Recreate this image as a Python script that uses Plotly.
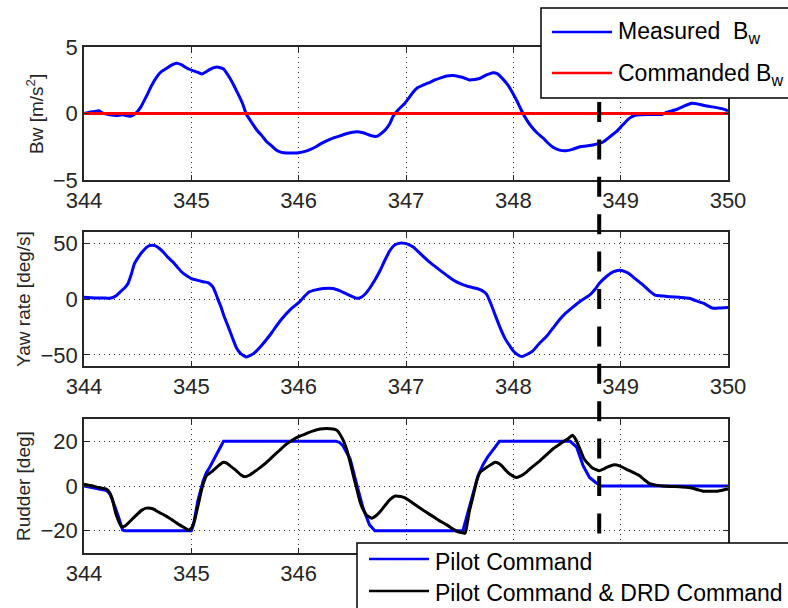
import plotly.graph_objects as go

# ---------------- data ----------------
# Lateral acceleration Bw [m/s^2]
bw_t = [344.00, 344.05, 344.10, 344.14, 344.17, 344.24, 344.30, 344.36, 344.43, 344.48,
        344.53, 344.58, 344.63, 344.68, 344.72, 344.77, 344.82, 344.86, 344.91, 344.96,
        345.02, 345.06, 345.10, 345.13, 345.17, 345.21, 345.24, 345.30, 345.36, 345.40,
        345.44, 345.48, 345.51, 345.56, 345.61, 345.66, 345.70, 345.75, 345.79, 345.84,
        345.89, 345.95, 346.00, 346.06, 346.11, 346.16, 346.20, 346.26, 346.32, 346.38,
        346.45, 346.54, 346.60, 346.65, 346.71, 346.74, 346.77, 346.81, 346.85, 346.88,
        346.93, 346.99, 347.03, 347.07, 347.11, 347.16, 347.21, 347.27, 347.33, 347.38,
        347.44, 347.49, 347.55, 347.59, 347.64, 347.69, 347.75, 347.81, 347.85, 347.89,
        347.95, 347.99, 348.03, 348.06, 348.09, 348.13, 348.17, 348.22, 348.28, 348.32,
        348.37, 348.43, 348.49, 348.55, 348.62, 348.68, 348.74, 348.80, 348.84, 348.90,
        348.96, 349.02, 349.08, 349.13, 349.18, 349.28, 349.39, 349.43, 349.52, 349.59,
        349.66, 349.73, 349.80, 349.88, 349.95, 350.00]
bw_meas = [0.00, 0.10, 0.15, 0.20, 0.05, -0.10, -0.15, -0.10, -0.20, 0.00,
           0.50, 1.27, 2.10, 2.77, 3.15, 3.40, 3.65, 3.77, 3.65, 3.40,
           3.20, 3.10, 2.97, 3.10, 3.30, 3.45, 3.50, 3.35, 2.65, 2.05,
           1.40, 0.70, 0.00, -0.65, -1.24, -1.70, -2.10, -2.45, -2.74, -2.92,
           -2.97, -2.97, -2.95, -2.85, -2.70, -2.50, -2.30, -2.05, -1.85, -1.70,
           -1.50, -1.37, -1.45, -1.60, -1.72, -1.68, -1.50, -1.20, -0.75, -0.20,
           0.30, 0.77, 1.20, 1.64, 1.95, 2.14, 2.30, 2.52, 2.70, 2.82,
           2.85, 2.78, 2.65, 2.52, 2.55, 2.65, 2.90, 3.07, 3.00, 2.70,
           2.14, 1.60, 1.00, 0.50, 0.00, -0.55, -1.00, -1.45, -1.86, -2.20,
           -2.54, -2.75, -2.80, -2.70, -2.50, -2.45, -2.37, -2.25, -2.12, -1.75,
           -1.37, -0.85, -0.37, -0.15, -0.10, -0.08, -0.05, 0.10, 0.30, 0.55,
           0.77, 0.70, 0.56, 0.46, 0.35, 0.20]
bw_cmd_t = [344.0, 350.0]
bw_cmd = [0.0, 0.0]

# Yaw rate [deg/s]
yaw_t = [344.00, 344.10, 344.20, 344.24, 344.30, 344.34, 344.38, 344.41, 344.44, 344.47,
         344.51, 344.54, 344.58, 344.61, 344.66, 344.70, 344.74, 344.78, 344.83, 344.87,
         344.91, 344.96, 345.00, 345.04, 345.08, 345.12, 345.16, 345.20, 345.23, 345.25,
         345.28, 345.30, 345.33, 345.36, 345.39, 345.42, 345.46, 345.51, 345.55, 345.59,
         345.65, 345.70, 345.75, 345.79, 345.85, 345.92, 346.01, 346.05, 346.10, 346.16,
         346.23, 346.32, 346.38, 346.45, 346.50, 346.54, 346.58, 346.62, 346.66, 346.71,
         346.76, 346.80, 346.85, 346.89, 346.93, 346.99, 347.03, 347.07, 347.14, 347.22,
         347.30, 347.38, 347.44, 347.50, 347.58, 347.66, 347.71, 347.75, 347.79, 347.83,
         347.87, 347.92, 347.96, 348.00, 348.04, 348.08, 348.13, 348.18, 348.24, 348.31,
         348.37, 348.43, 348.49, 348.56, 348.63, 348.71, 348.76, 348.80, 348.86, 348.93,
         348.99, 349.04, 349.08, 349.14, 349.21, 349.27, 349.32, 349.40, 349.46, 349.55,
         349.64, 349.70, 349.77, 349.86, 349.93, 350.00]
yaw_rate = [1.5, 1.0, 0.8, 0.6, 3.0, 6.5, 10.0, 13.9, 22.0, 31.6,
            38.0, 41.9, 46.0, 47.8, 47.8, 45.5, 41.9, 37.5, 33.0, 28.5,
            24.2, 20.5, 18.3, 17.2, 16.2, 15.3, 14.5, 10.9, 4.5, -0.9,
            -8.0, -14.2, -21.5, -28.9, -36.5, -43.6, -49.0, -51.9, -50.5, -48.0,
            -42.0, -36.3, -30.0, -24.5, -17.0, -9.7, -2.4, 2.0, 6.5, 8.2,
            9.4, 9.4, 7.5, 4.4, 2.2, 0.6, 1.5, 4.5, 9.4, 17.0,
            25.7, 34.0, 43.4, 48.0, 49.8, 49.8, 48.5, 46.3, 40.0, 33.0,
            27.0, 21.2, 17.0, 13.9, 11.2, 9.4, 7.5, 4.4, -4.0, -14.2,
            -24.0, -34.8, -41.0, -46.6, -50.0, -51.6, -49.5, -46.6, -40.0, -33.4,
            -26.0, -18.6, -12.5, -6.8, -1.5, 3.5, 8.5, 13.9, 19.5, 24.2,
            25.7, 24.5, 22.7, 17.8, 12.4, 7.0, 3.5, 2.6, 2.1, 1.5,
            0.6, -1.5, -3.8, -8.3, -8.0, -7.7]

# Rudder [deg]: pilot command only
pilot_t = [344.00, 344.12, 344.21, 344.24, 344.27, 344.32, 344.36, 344.38, 345.00, 345.02,
           345.06, 345.11, 345.14, 345.17, 345.20, 345.24, 345.30, 346.35, 346.38, 346.41,
           346.48, 346.54, 346.60, 346.66, 346.71, 347.53, 347.58, 347.62, 347.67, 347.72,
           347.76, 347.83, 347.87, 348.53, 348.59, 348.65, 348.71, 348.77, 348.82, 350.00]
pilot_cmd = [0.0, -1.0, -2.0, -3.5, -6.8, -13.6, -19.7, -20.0, -20.0, -17.4,
             -6.8, 2.3, 6.0, 8.3, 11.0, 15.1, 20.0, 20.0, 19.5, 18.2,
             12.1, 0.8, -9.9, -17.4, -20.0, -20.0, -11.4, -3.8, 4.5, 9.8,
             12.9, 17.4, 20.0, 20.0, 17.4, 9.1, 3.8, 1.5, 0.0, 0.0]

# Rudder [deg]: pilot command plus DRD command
drd_t = [344.00, 344.06, 344.12, 344.21, 344.24, 344.26, 344.30, 344.35, 344.38, 344.41,
         344.45, 344.49, 344.54, 344.58, 344.64, 344.70, 344.77, 344.83, 344.89, 344.94,
         344.97, 345.00, 345.03, 345.05, 345.08, 345.10, 345.12, 345.14, 345.17, 345.20,
         345.25, 345.30, 345.33, 345.36, 345.42, 345.46, 345.50, 345.54, 345.58, 345.64,
         345.70, 345.76, 345.82, 345.88, 345.95, 346.01, 346.07, 346.13, 346.20, 346.26,
         346.32, 346.36, 346.38, 346.42, 346.45, 346.48, 346.51, 346.54, 346.57, 346.60,
         346.63, 346.68, 346.72, 346.76, 346.80, 346.85, 346.90, 346.95, 346.99, 347.06,
         347.13, 347.19, 347.25, 347.31, 347.38, 347.43, 347.47, 347.51, 347.55, 347.57,
         347.59, 347.62, 347.64, 347.66, 347.69, 347.75, 347.79, 347.83, 347.86, 347.89,
         347.93, 347.97, 348.03, 348.07, 348.12, 348.18, 348.25, 348.31, 348.37, 348.42,
         348.46, 348.51, 348.55, 348.58, 348.60, 348.63, 348.66, 348.70, 348.73, 348.77,
         348.80, 348.84, 348.87, 348.94, 348.99, 349.05, 349.12, 349.18, 349.22, 349.27,
         349.33, 349.39, 349.47, 349.55, 349.61, 349.67, 349.72, 349.77, 349.85, 349.90,
         349.95, 349.98, 350.00]
drd_cmd = [0.8, 0.2, -0.5, -1.5, -3.0, -5.3, -12.9, -18.2, -18.0, -16.7,
           -14.8, -12.9, -10.8, -9.9, -10.2, -11.8, -13.6, -15.5, -17.4, -18.8,
           -19.7, -18.9, -15.5, -11.4, -5.0, -0.8, 2.2, 4.5, 5.7, 6.8,
           9.0, 10.6, 10.2, 9.1, 6.8, 5.0, 4.1, 4.8, 6.1, 8.2,
           10.6, 13.3, 15.9, 18.5, 20.8, 22.3, 23.5, 24.6, 25.5, 25.7,
           25.5, 24.8, 23.5, 20.0, 15.9, 10.5, 4.5, -1.0, -6.8, -10.5,
           -12.9, -14.4, -13.3, -11.4, -9.0, -6.1, -4.5, -4.7, -5.3, -7.5,
           -9.9, -11.8, -13.6, -15.5, -17.4, -19.0, -20.2, -20.8, -21.2, -17.0,
           -11.4, -5.5, -1.5, 2.5, 6.1, 8.3, 9.5, 10.6, 10.2, 9.1,
           7.0, 5.3, 3.8, 4.5, 6.1, 8.7, 11.4, 14.0, 16.7, 18.3,
           19.7, 21.2, 22.7, 21.0, 19.0, 15.5, 12.1, 9.8, 8.3, 7.3,
           6.8, 7.6, 8.3, 9.5, 9.0, 7.6, 6.0, 4.5, 2.8, 1.1,
           0.4, 0.0, -0.2, -0.3, -0.6, -1.0, -1.7, -2.3, -2.4, -2.3,
           -1.9, -1.5, -1.4]

# Time of the DRD engagement marker
marker_time = 348.8

x_range = [344, 350]
x_ticks = [344, 345, 346, 347, 348, 349, 350]
# bottom panel: only the labels left of the legend box are printed,
# the remaining ticks/grid lines are drawn as unlabeled minor ticks
x_ticks_bottom_labeled = [344, 345, 346]
x_ticks_bottom_unlabeled = [347, 348, 349, 350]
bw_ticks = [-5, 0, 5]
yaw_ticks = [-50, 0, 50]
rud_ticks = [-20, 0, 20]

# ---------------- layout geometry ----------------
W, H = 788, 608
ML, MR, MT, MB = 84, 60, 47, 55
PW, PH = W - ML - MR, H - MT - MB


def px(xp):
    return (xp - ML) / PW


def py(yp):
    return (H - MB - yp) / PH


FONT = "Liberation Sans, Arial, sans-serif"
AXC = "#262626"
BLUE = "#0000ff"
RED = "#ff0000"
BLACK = "#000000"
GRIDC = "#333333"
GRIDDASH = "1px,4px"

smooth = dict(shape="spline", smoothing=0.5)

fig = go.Figure()
fig.add_trace(go.Scatter(x=bw_t, y=bw_meas, mode="lines",
                         line=dict(color=BLUE, width=3, **smooth),
                         xaxis="x", yaxis="y", showlegend=False))
fig.add_trace(go.Scatter(x=bw_cmd_t, y=bw_cmd, mode="lines", line=dict(color=RED, width=3),
                         xaxis="x", yaxis="y", showlegend=False))
fig.add_trace(go.Scatter(x=yaw_t, y=yaw_rate, mode="lines",
                         line=dict(color=BLUE, width=3, **smooth),
                         xaxis="x2", yaxis="y2", showlegend=False))
fig.add_trace(go.Scatter(x=pilot_t, y=pilot_cmd, mode="lines", line=dict(color=BLUE, width=3),
                         xaxis="x3", yaxis="y3", showlegend=False))
fig.add_trace(go.Scatter(x=drd_t, y=drd_cmd, mode="lines",
                         line=dict(color=BLACK, width=3, **smooth),
                         xaxis="x3", yaxis="y3", showlegend=False))

axis_common = dict(
    showline=True, linecolor=AXC, linewidth=1.5, mirror="ticks",
    ticks="inside", ticklen=5, tickwidth=1, tickcolor=AXC,
    showgrid=True, gridcolor=GRIDC, gridwidth=1, griddash=GRIDDASH,
    zeroline=False, tickfont=dict(family=FONT, size=22, color=AXC),
)

domains = {
    "top": [py(180), py(47)],
    "mid": [py(366), py(232)],
    "bot": [py(553), py(419)],
}

layout = dict(
    width=W, height=H,
    margin=dict(l=ML, r=MR, t=MT, b=MB, autoexpand=False),
    paper_bgcolor="white", plot_bgcolor="white",
    font=dict(family=FONT, color=AXC),
    xaxis=dict(domain=[0, 1], anchor="y", range=x_range, tickvals=x_ticks, **axis_common),
    yaxis=dict(domain=domains["top"], anchor="x", range=[-5, 5], tickvals=bw_ticks, **axis_common),
    xaxis2=dict(domain=[0, 1], anchor="y2", range=x_range, tickvals=x_ticks, **axis_common),
    yaxis2=dict(domain=domains["mid"], anchor="x2", range=[-60, 60], tickvals=yaw_ticks, **axis_common),
    xaxis3=dict(domain=[0, 1], anchor="y3", range=x_range, tickvals=x_ticks_bottom_labeled,
                minor=dict(tickvals=x_ticks_bottom_unlabeled, ticks="inside", ticklen=5,
                           tickwidth=1, tickcolor=AXC, showgrid=True, gridcolor=GRIDC,
                           gridwidth=1, griddash=GRIDDASH),
                **axis_common),
    yaxis3=dict(domain=domains["bot"], anchor="x3", range=[-30, 30], tickvals=rud_ticks, **axis_common),
)
fig.update_layout(**layout)

shapes = []
annotations = []

# dashed marker line spanning all three panels
mx = (marker_time - x_range[0]) / (x_range[1] - x_range[0])
shapes.append(dict(type="line", xref="paper", yref="paper", x0=mx, x1=mx,
                   y0=py(27.2), y1=py(620), line=dict(color=BLACK, width=4, dash="20px,17.4px"),
                   layer="above"))

# legend boxes drawn on top of the marker line
LEG_FONT = dict(family=FONT, size=23, color=BLACK)


def legend_box(x0p, y0p, x1p, y1p, items):
    shapes.append(dict(type="rect", xref="paper", yref="paper",
                       x0=px(x0p), x1=px(x1p), y0=py(y1p), y1=py(y0p),
                       fillcolor="white", line=dict(color=BLACK, width=1.5), layer="above"))
    for (lx0, lx1, ly, color, label, ty) in items:
        shapes.append(dict(type="line", xref="paper", yref="paper",
                           x0=px(lx0), x1=px(lx1), y0=py(ly), y1=py(ly),
                           line=dict(color=color, width=2.5), layer="above"))
        annotations.append(dict(xref="paper", yref="paper", x=px(lx1 + 4), y=py(ty),
                                xanchor="left", yanchor="middle", showarrow=False,
                                text=label, font=LEG_FONT))


legend_box(541, 8, 800, 98, [
    (552, 612, 32, BLUE, "Measured\u00a0 B<sub>w</sub>", 33),
    (552, 612, 73, RED, "Commanded B<sub>w</sub>", 74),
])
legend_box(357, 543, 800, 620, [
    (369, 429, 559, BLUE, "Pilot Command", 562),
    (369, 429, 591, BLACK, "Pilot Command &amp; DRD Command", 593),
])

# y-axis titles
YT_FONT = dict(family=FONT, size=19, color=AXC)
for xc, yc, txt in [(35, 114, "Bw [m/s<sup>2</sup>]"),
                    (23, 299, "Yaw rate [deg/s]"),
                    (23, 486, "Rudder [deg]")]:
    annotations.append(dict(xref="paper", yref="paper", x=px(xc), y=py(yc),
                            xanchor="center", yanchor="middle", textangle=-90,
                            showarrow=False, text=txt, font=YT_FONT))

fig.update_layout(shapes=shapes, annotations=annotations)

fig.write_html("out.html")
